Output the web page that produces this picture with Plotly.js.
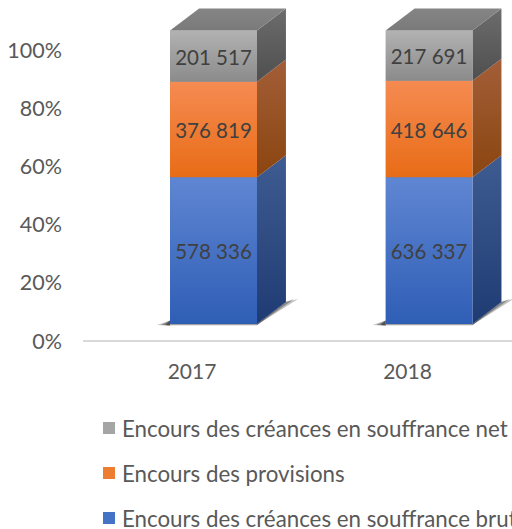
<!DOCTYPE html>
<html><head><meta charset="utf-8">
<script src="https://cdn.plot.ly/plotly-3.0.1.min.js"></script>
<style>html,body{margin:0;padding:0;background:#fff;overflow:hidden}#c{width:512px;height:529px}</style>
</head><body><div id="c"></div>
<script>
const years = ["2017", "2018"];
const brut = [578336, 636337];
const provisions = [376819, 418646];
const net = [201517, 217691];
const labels = {brut: ["578 336", "636 337"], provisions: ["376 819", "418 646"], net: ["201 517", "217 691"]};
const seriesNames = ["Encours des créances en souffrance brut", "Encours des provisions", "Encours des créances en souffrance net"];
const tickPct = [0, 20, 40, 60, 80, 100];

const fontFam = "Lato, Carlito, sans-serif";
const txt = "#595959", lab = "#404040";
const barW = 0.403, depthX = 0.1346, depthY = 7.5;
const pxX = 1 / 215.5, pxY = 1 / 2.935;
const pos = years.map((_, i) => i);

const styles = [
  {mean: "#4472C4", front: ["#2F5EB6", "#5F86D2"], side: ["#1F3B73", "#3F5C92"]},
  {mean: "#ED7D31", front: ["#E86C16", "#F58B52"], side: ["#8A4510", "#A35E38"]},
  {mean: "#A5A5A5", front: ["#8B8B8B", "#B2B2B2"], side: ["#4F4F4F", "#6C6C6C"]}
];
const raw = [brut, provisions, net];
const traces = [];

// carrier for the visible axes
traces.push({type: "scatter", mode: "markers", x: years, y: [0, 0], marker: {opacity: 0, size: 1}, showlegend: false, hoverinfo: "skip"});

// real stacked bars (normalised to percent)
raw.forEach((vals, s) => traces.push({
  type: "bar", x: pos, y: vals, width: barW, xaxis: "x2", yaxis: "y2",
  name: seriesNames[s], legendgroup: "g" + s, legendrank: 10 - s, marker: {color: styles[s].mean, line: {width: 0}},
  hoverinfo: "skip"
}));

const poly = (xs, ys, c0, c1) => ({
  type: "scatter", mode: "lines", x: xs, y: ys, xaxis: "x2", yaxis: "y2", fill: "toself",
  line: {width: 0, color: "rgba(0,0,0,0)"}, showlegend: false, hoverinfo: "skip",
  fillcolor: c1,
  fillgradient: {type: "vertical", colorscale: [[0, c0], [1, c1]]}
});
const flat = (xs, ys, a) => {
  const col = "rgba(45,45,45," + a + ")";
  return {
    type: "scatter", mode: "lines", x: xs, y: ys, xaxis: "x2", yaxis: "y2", fill: "toself",
    line: {width: 0, color: "rgba(0,0,0,0)"}, showlegend: false, hoverinfo: "skip", fillcolor: col
  };
};

pos.forEach(i => {
  const total = raw.reduce((a, r) => a + r[i], 0);
  const L = i - barW / 2, R = i + barW / 2;
  // soft contact shadow, in layers
  [[41, 0.3], [37, 0.4], [33, 0.6]].forEach(([tip, a]) => {
    traces.push(flat([R, R + tip * pxX, R + depthX, R], [-1 * pxY, 25 * pxY, depthY, 0], a));
  });
  [[13, 0.3], [9, 0.4], [5, 0.6]].forEach(([tip, a]) => {
    traces.push(flat([L - tip * pxX, L, L], [-1 * pxY, 3.5 * pxY, -1.5 * pxY], a));
  });
  traces.push(flat([L, R, R, L], [-1.2 * pxY, -1.2 * pxY, 0, 0], 0.45));
  let base = 0;
  raw.forEach((vals, s) => {
    const h = vals[i] / total * 100, b0 = base, b1 = base + h;
    traces.push(poly([R, R + depthX, R + depthX, R, R], [b0, b0 + depthY, b1 + depthY, b1, b0], styles[s].side[0], styles[s].side[1]));
    traces.push(poly([L, R, R, L, L], [b0, b0, b1, b1, b0], styles[s].front[0], styles[s].front[1]));
    base = b1;
  });
  traces.push(poly([L, R, R + depthX, L + depthX, L], [100, 100, 100 + depthY, 100 + depthY, 100], "#7A7A7A", "#858585"));
});

// data labels
const labelDrop = 3.5 * pxY;
raw.forEach((vals, s) => {
  const key = ["brut", "provisions", "net"][s];
  const lower = raw.slice(0, s);
  traces.push({
    type: "scatter", mode: "text", x: pos, xaxis: "x2", yaxis: "y2", showlegend: false, hoverinfo: "skip",
    y: vals.map((v, i) => {
      const total = raw.reduce((a, r) => a + r[i], 0);
      const b = lower.reduce((a, r) => a + r[i], 0);
      return (b + v / 2) / total * 100 - labelDrop;
    }),
    text: labels[key], textposition: "middle center",
    textfont: {family: fontFam, size: 20.5, color: lab}
  });
});

const layout = {
  width: 512, height: 529, paper_bgcolor: "#fff", plot_bgcolor: "#fff",
  margin: {l: 83, r: 0, t: 0, b: 186, autoexpand: false},
  barmode: "stack", barnorm: "percent",
  font: {family: fontFam, size: 20.5, color: txt},
  showlegend: true,
  xaxis: {type: "category", categoryorder: "array", categoryarray: years, range: [-0.506, 1.485], fixedrange: true,
    showline: false, showgrid: false, zeroline: false, ticks: "",
    ticklabelstandoff: 14, tickfont: {family: fontFam, size: 21, color: txt}},
  yaxis: {range: [-0.687, 117.18], tickvals: tickPct, ticktext: tickPct.map(t => t + "%"), showgrid: false,
    zeroline: true, zerolinecolor: "#D9D9D9", zerolinewidth: 2,
    showline: false, ticks: "", ticklabelstandoff: 20, fixedrange: true, tickfont: {family: fontFam, size: 21.5, color: txt}},
  xaxis2: {overlaying: "x", range: [-0.6056, 1.385], visible: false, fixedrange: true},
  yaxis2: {overlaying: "y", range: [-6.474, 110.39], visible: false, fixedrange: true},
  legend: {x: 82 / 512, xref: "container", y: 122 / 529, yref: "container", xanchor: "left", yanchor: "top",
    traceorder: "grouped", tracegroupgap: 13, itemwidth: 30, maxheight: 300,
    bgcolor: "rgba(0,0,0,0)", font: {family: fontFam, size: 22.3, color: txt}}
};

Plotly.newPlot("c", traces, layout, {displayModeBar: false, staticPlot: true}).then(() => {
  document.querySelectorAll("#c .legendsymbols").forEach(n => n.setAttribute("transform", "translate(7,0)"));
});
</script></body></html>
